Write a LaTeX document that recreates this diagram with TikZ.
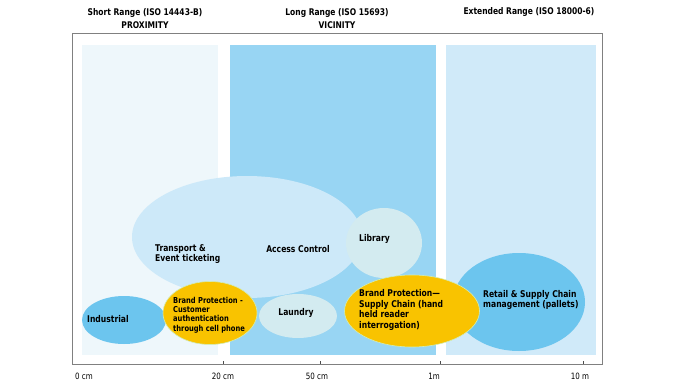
\documentclass[tikz,border=0pt]{standalone}
\usepackage{fontspec}
\setmainfont{DejaVu Sans}[FakeStretch=0.82]
\usepackage{xcolor}
\usetikzlibrary{shapes,
	positioning}
\definecolor{palepanel}{HTML}{EEF7FB}
\definecolor{midpanel}{HTML}{98D5F3}
\definecolor{farpanel}{HTML}{D0EAF9}
\definecolor{bigell}{HTML}{CDE9F9}
\definecolor{greyell}{HTML}{D3EBF0}
\definecolor{blueell}{HTML}{6CC5EE}
\definecolor{yellell}{HTML}{F9C300}
\tikzstyle{pan}=[inner sep=0]
\tikzstyle{ell}=[ellipse, inner sep=0]
\tikzstyle{yel}=[ell, fill=yellell, draw=yellow!40!green!30, line width=0.6pt]
\tikzstyle{lbl}=[font=\bfseries\fontsize{9.3}{10.5}\selectfont, align=left, inner sep=0]
\tikzstyle{smlbl}=[font=\bfseries\fontsize{8.2}{9.4}\selectfont, align=left, inner sep=0]
\tikzstyle{hd}=[font=\bfseries\fontsize{9.2}{13}\selectfont, align=center, inner sep=0]
\tikzstyle{ax}=[font=\fontsize{8.7}{10}\selectfont, inner sep=0]

\begin{document}
\begin{tikzpicture}[x=1pt, y=-1pt]
        \useasboundingbox (0,0) rectangle (680,380);
        % headers
        \node[hd] (hshort) at (145,18.5) {Short Range (ISO 14443-B)\\PROXIMITY};
        \node[hd] (hlong) at (337,18.5) {Long Range (ISO 15693)\\VICINITY};
        \node[hd] (hext) at (529,12) {Extended Range (ISO 18000-6)};
        % panels
        \fill[palepanel] (82,45) rectangle (218,355);
        \fill[midpanel] (230,45) rectangle (436,355);
        \fill[farpanel] (446,45) rectangle (596,355);
        \draw[gray, line width=0.8pt] (72.7,33.7) rectangle (602,364);
        % ranges
        \node[ell, fill=bigell, minimum width=230, minimum height=122] (access) at (247,237) {};
        \node[ell, fill=greyell, minimum width=76, minimum height=70] (library) at (384,243) {};
        \node[ell, fill=blueell, minimum width=84, minimum height=48] (industrial) at (124,320) {};
        \node[yel, minimum width=94, minimum height=63] (brandcust) at (210,313) {};
        \node[ell, fill=greyell, minimum width=78, minimum height=44] (laundry) at (298,316) {};
        \node[ell, fill=blueell, minimum width=132, minimum height=98] (retail) at (519,302) {};
        \node[yel, minimum width=135, minimum height=72] (brandsupply) at (412,311) {};
        % labels
        \node[lbl, anchor=west] (ltransport) at (155,254) {Transport \&\\Event ticketing};
        \node[lbl] (laccess) at (298,249) {Access Control};
        \node[lbl, anchor=west] (llibrary) at (359,239) {Library};
        \node[lbl, anchor=west] (lindustrial) at (87,319) {Industrial};
        \node[smlbl, anchor=west] (lbrandcust) at (173,315) {Brand Protection -\\Customer\\authentication\\through cell phone};
        \node[lbl] (llaundry) at (296,313) {Laundry};
        \node[lbl, anchor=west] (lbrandsupply) at (359,310) {Brand Protection—\\Supply Chain (hand\\held reader\\interrogation)};
        \node[lbl, anchor=west] (lretail) at (483,300) {Retail \& Supply Chain\\management (pallets)};
        % axis
        \foreach \tx/\tl/\nm in {84/0 cm/t0, 223/20 cm/t20, 317/50 cm/t50, 434/1m/t100, 580/10 m/t1000} {
            \node[ax] (\nm) at (\tx,376) {\tl};
        }
        \foreach \tx in {223, 320, 440, 583} {
            \draw[black!70, line width=0.6pt] (\tx,364) -- (\tx,360.5);
        }
    \end{tikzpicture}
\end{document}
